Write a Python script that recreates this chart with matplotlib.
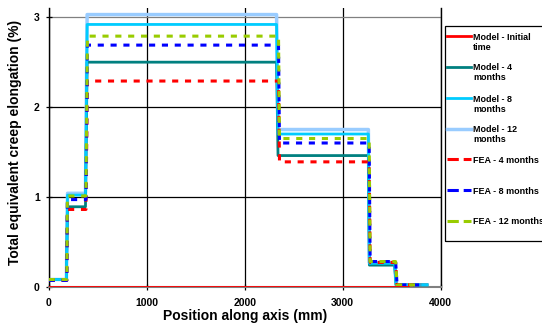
import matplotlib
matplotlib.use("Agg")
import matplotlib.pyplot as plt
from matplotlib.lines import Line2D
from matplotlib.patches import Rectangle

plt.rcParams['font.family'] = ['Liberation Sans', 'DejaVu Sans']
plt.rcParams['font.weight'] = 'bold'

# Model curves (step profiles along the axis)
model_x = [0, 180, 192, 375, 392, 2325, 2340, 3262, 3272, 3530, 3545, 3860]
model_12 = [0.08, 0.08, 1.04, 1.04, 3.03, 3.03, 1.75, 1.75, 0.27, 0.27, 0.02, 0.02]
model_8 = [0.08, 0.08, 1.02, 1.02, 2.92, 2.92, 1.70, 1.70, 0.26, 0.26, 0.02, 0.02]
model_4 = [0.08, 0.08, 0.89, 0.89, 2.50, 2.50, 1.46, 1.46, 0.24, 0.24, 0.02, 0.02]
model_0_x = [0, 3670]
model_0 = [0.0, 0.0]

# FEA results
fea_x = [0, 185, 190, 380, 395, 2345, 2355, 3270, 3280, 3540, 3555, 3800]
fea_4 = [0.07, 0.07, 0.86, 0.86, 2.29, 2.29, 1.39, 1.39, 0.27, 0.27, 0.02, 0.02]
fea_8 = [0.07, 0.07, 0.97, 0.97, 2.69, 2.69, 1.60, 1.60, 0.28, 0.28, 0.02, 0.02]
fea_12 = [0.08, 0.08, 1.01, 1.01, 2.79, 2.79, 1.65, 1.65, 0.28, 0.28, 0.02, 0.02]

labels = ["Model - Initial\ntime", "Model - 4\nmonths", "Model - 8\nmonths",
          "Model - 12\nmonths", "FEA - 4 months", "FEA - 8 months", "FEA - 12 months"]

fig = plt.figure(figsize=(5.42, 3.29), dpi=100)
ax = fig.add_axes([0.0899, 0.1286, 0.7232, 0.8462])

# Model lines
l0, = ax.plot(model_0_x, model_0, color='#FF0000', lw=2.0, zorder=5)
l4, = ax.plot(model_x, model_4, color='#008080', lw=2.0, zorder=3)
l8, = ax.plot(model_x, model_8, color='#00CCFF', lw=2.0, zorder=3)
l12, = ax.plot(model_x, model_12, color='#99CCFF', lw=2.5, zorder=2)

# FEA lines (dashed)
f4, = ax.plot(fea_x, fea_4, color='#FF0000', lw=2.2, ls=(0, (2, 2.2)), zorder=4)
f8, = ax.plot(fea_x, fea_8, color='#0000FF', lw=2.2, ls=(0, (2, 2.2)), zorder=4)
f12, = ax.plot(fea_x, fea_12, color='#99CC00', lw=2.2, ls=(0, (2, 2.2)), zorder=4)

ax.set_xlim(0, 4000)
ax.set_ylim(0, 3.1)
ax.set_xticks([0, 1000, 2000, 3000, 4000])
ax.set_yticks([0, 1, 2, 3])
ax.grid(True, color='black', lw=0.9)
ax.yaxis.get_gridlines()[3].set_color('#808080')
ax.set_axisbelow(True)

ax.spines['top'].set_visible(False)
ax.spines['bottom'].set_color('#808080')
ax.spines['bottom'].set_linewidth(1.5)
ax.spines['left'].set_linewidth(1.0)
ax.spines['right'].set_linewidth(1.0)

ax.tick_params(axis='both', direction='inout', length=5, width=0.9, labelsize=7.5)
ax.tick_params(axis='x', pad=6)
ax.tick_params(axis='y', pad=4)
for t in ax.get_xticklabels() + ax.get_yticklabels():
    t.set_fontweight('bold')

W, H = 542.0, 329.0
fig.text(15 / W, 1 - 142 / H, "Total equivalent creep elongation (%)", rotation=90,
         ha='center', va='center', fontsize=10, fontweight='bold')
fig.text(245 / W, 1 - 316 / H, "Position along axis (mm)",
         ha='center', va='center', fontsize=10, fontweight='bold')

# Legend box (drawn by hand, cut off at the right edge like the original)
fig.add_artist(Rectangle((445 / W, 1 - 240.7 / H), 120 / W, 215 / H,
                         transform=fig.transFigure, fill=False, ec='black', lw=0.9))
handles = [l0, l4, l8, l12, f4, f8, f12]
rows = [36, 66.5, 98, 128.5, 159, 190.5, 220.5]
for h, lab, yy in zip(handles, labels, rows):
    fig.add_artist(Line2D([447 / W, 471 / W], [1 - yy / H, 1 - yy / H],
                          transform=fig.transFigure, color=h.get_color(),
                          lw=h.get_linewidth(), ls=h.get_linestyle()))
    for i, line in enumerate(lab.split("\n")):
        fig.text(473 / W, 1 - (yy + 1 + 10.5 * i) / H, line, ha='left', va='center',
                 fontsize=6.5, fontweight='bold')

fig.savefig("out.png", dpi=100)
